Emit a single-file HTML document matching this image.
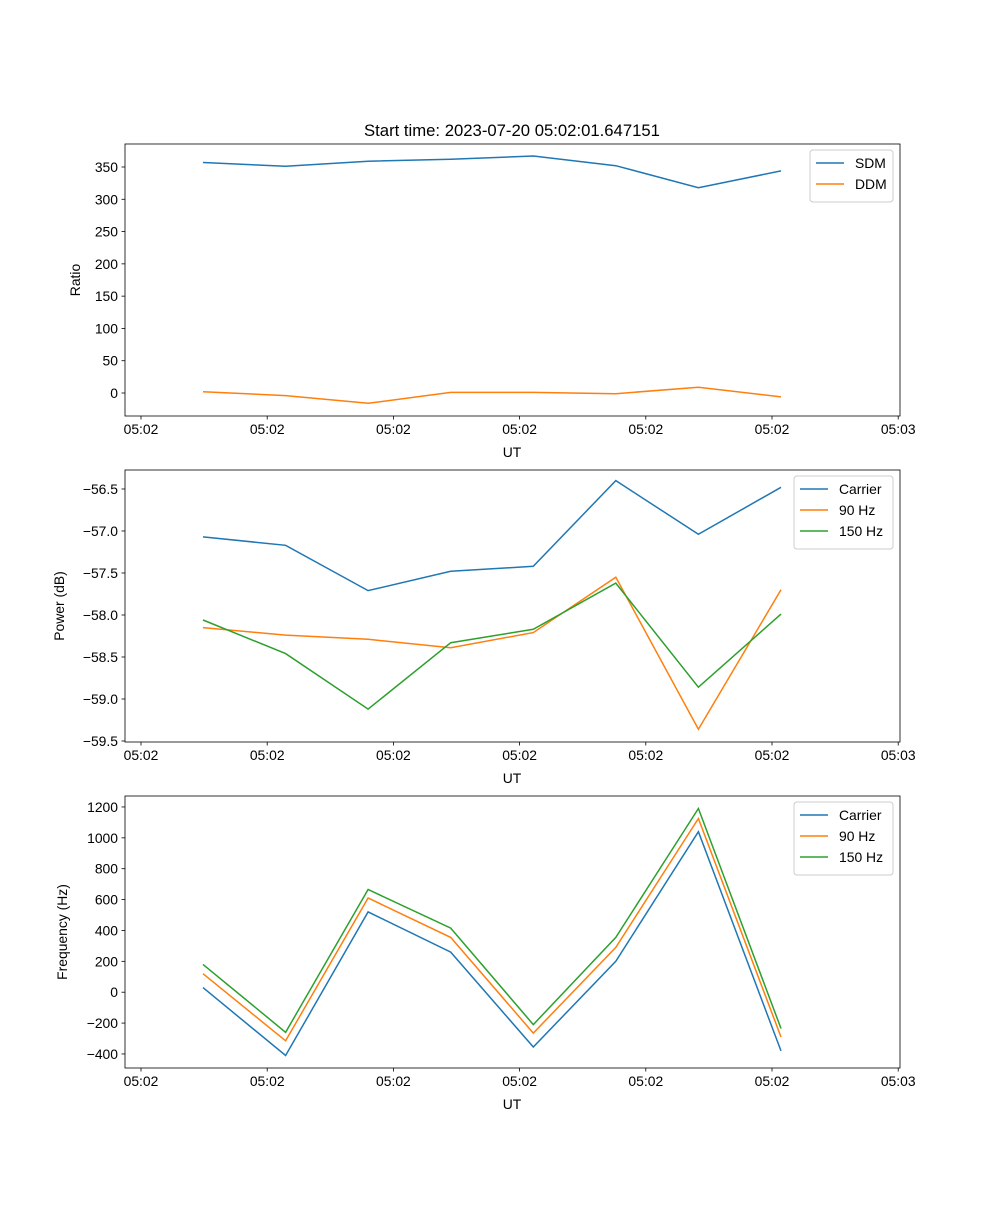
<!DOCTYPE html>
<html><head><meta charset="utf-8"><style>
body{margin:0;background:#fff}
svg text{font-family:"Liberation Sans","DejaVu Sans",sans-serif;fill:#000}
</style></head><body>
<svg id="fig" width="1000" height="1200" xmlns="http://www.w3.org/2000/svg">
<rect width="1000" height="1200" fill="#fff"/>
<text x="512" y="136" font-size="16.7" text-anchor="middle">Start time: 2023-07-20 05:02:01.647151</text>
</svg>
<script>
const xTickLabels = ["05:02","05:02","05:02","05:02","05:02","05:02","05:03"];
const sampleIdx = [0,1,2,3,4,5,6,7];
const sdm = [357,351,359,362,367,352,318,344];
const ddm = [2,-4,-16,1,1,-1,9,-6];
const pCarrier = [-57.07,-57.17,-57.71,-57.48,-57.42,-56.40,-57.04,-56.48];
const p90 = [-58.15,-58.24,-58.29,-58.39,-58.21,-57.55,-59.36,-57.70];
const p150 = [-58.06,-58.46,-59.12,-58.33,-58.17,-57.62,-58.86,-57.99];
const fCarrier = [30,-410,520,260,-355,200,1040,-380];
const f90 = [120,-315,610,355,-265,290,1125,-290];
const f150 = [180,-260,665,415,-210,355,1190,-235];
const ticks1 = [0,50,100,150,200,250,300,350];
const ticks2 = [-56.5,-57.0,-57.5,-58.0,-58.5,-59.0,-59.5];
const ticks3 = [-400,-200,0,200,400,600,800,1000,1200];

const NS="http://www.w3.org/2000/svg";
const svg=document.getElementById('fig');
function mk(t,a,p){const e=document.createElementNS(NS,t);for(const k in a)e.setAttribute(k,a[k]);(p||svg).appendChild(e);return e;}
const L=125,R=900;
const xTick=i=>141+i*126.2;
const xData=i=>203+i*82.57;

function panel(id,top,bot,yMin,yMax,yTicks,fmt,ylabel,ylx,series,legW){
  const g=mk('g',{});
  
  
  const y=v=>bot-(v-yMin)/(yMax-yMin)*(bot-top);
  series.forEach(s=>{
    const pts=s.vals.map((v,i)=>xData(sampleIdx[i]).toFixed(1)+','+y(v).toFixed(1)).join(' ');
    const pl=mk('polyline',{points:pts,fill:'none',stroke:s.c,'stroke-width':1.5},g);
    
    
  });
  const fr=mk('rect',{x:L,y:top,width:R-L,height:bot-top,fill:'none',stroke:'#000','stroke-width':0.8},g);
  
  
  xTickLabels.forEach((t,i)=>{
    const x=xTick(i);
    mk('line',{x1:x,x2:x,y1:bot,y2:bot+3.5,stroke:'#000','stroke-width':0.8},g);
    const tx=mk('text',{x:x,y:bot+18,'font-size':13.9,'text-anchor':'middle'},g);tx.textContent=t;
    
    
  });
  yTicks.forEach(v=>{
    const yy=y(v);
    mk('line',{x1:L-3.5,x2:L,y1:yy,y2:yy,stroke:'#000','stroke-width':0.8},g);
    const tx=mk('text',{x:L-7,y:yy+5,'font-size':13.9,'text-anchor':'end'},g);tx.textContent=fmt(v);
    
    
  });
  const xl=mk('text',{x:512,y:bot+41,'font-size':13.9,'text-anchor':'middle'},g);xl.textContent='UT';
  
  
  const cy=(top+bot)/2;
  const yl=mk('text',{x:ylx,y:cy,'font-size':13.9,'text-anchor':'middle',transform:`rotate(-90 ${ylx} ${cy})`},g);yl.textContent=ylabel;
  
  
  const lx=R-7-legW, ly=top+6, lh=10+series.length*21;
  const lg=mk('g',{},g);
  
  
  mk('rect',{x:lx,y:ly,width:legW,height:lh,rx:3,fill:'#fff','fill-opacity':0.8,stroke:'#ccc'},lg);
  series.forEach((s,i)=>{
    const yy=ly+13+i*21;
    mk('line',{x1:lx+6,x2:lx+34,y1:yy,y2:yy,stroke:s.c,'stroke-width':1.5},lg);
    const t=mk('text',{x:lx+45,y:yy+5,'font-size':13.9},lg);t.textContent=s.n;
    
    
  });
}
const C0='#1f77b4',C1='#ff7f0e',C2='#2ca02c';
panel('ratio-panel',144,416,-35.6,385.6,ticks1,v=>String(v),'Ratio',80,
  [{n:'SDM',vals:sdm,c:C0},{n:'DDM',vals:ddm,c:C1}],83);
panel('power-panel',470,742,-59.512,-56.274,ticks2,v=>(v<0?'\u2212':'')+Math.abs(v).toFixed(1),'Power (dB)',64,
  [{n:'Carrier',vals:pCarrier,c:C0},{n:'90 Hz',vals:p90,c:C1},{n:'150 Hz',vals:p150,c:C2}],99);
panel('frequency-panel',796,1068,-491,1271,ticks3,v=>(v<0?'\u2212':'')+Math.abs(v),'Frequency (Hz)',67,
  [{n:'Carrier',vals:fCarrier,c:C0},{n:'90 Hz',vals:f90,c:C1},{n:'150 Hz',vals:f150,c:C2}],99);
</script>
</body></html>
